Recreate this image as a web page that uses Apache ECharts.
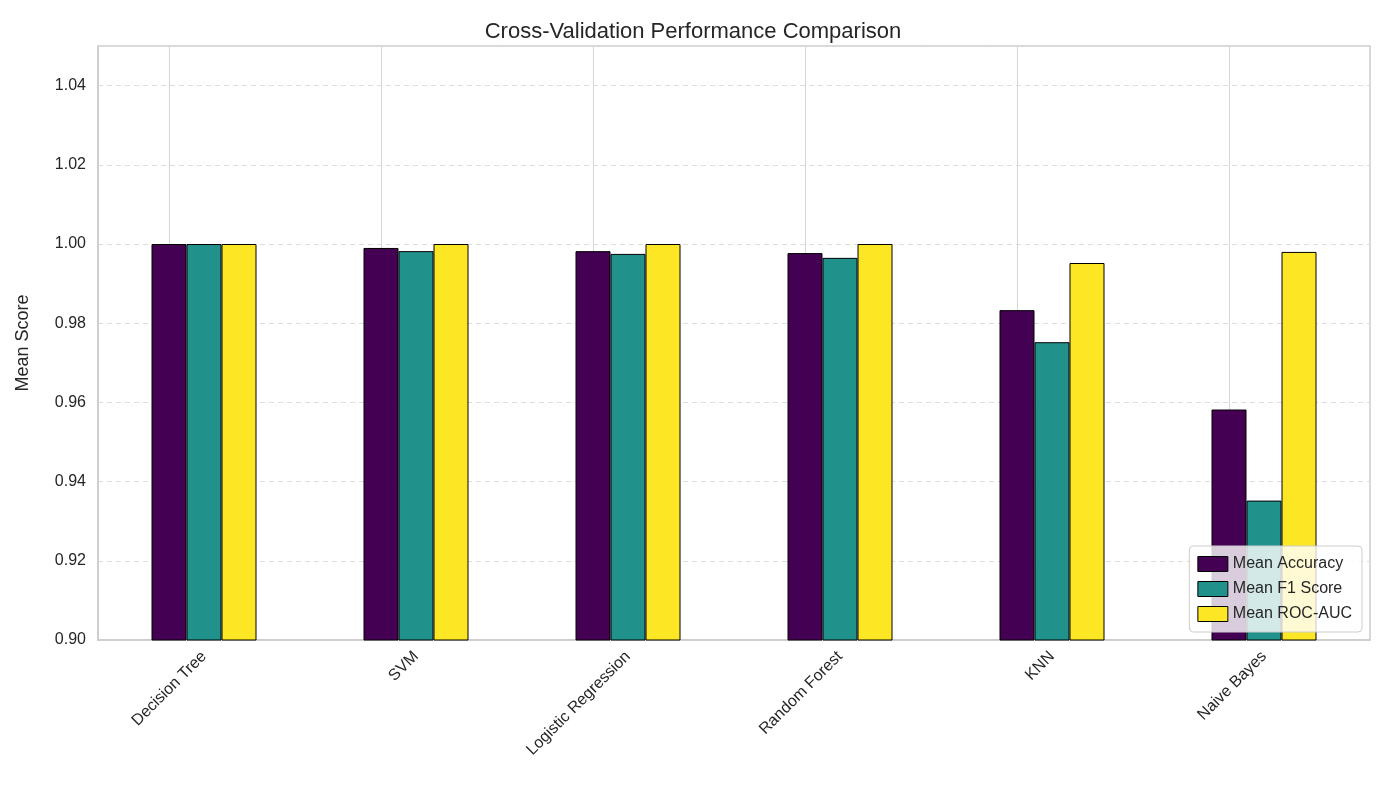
<!DOCTYPE html>
<html>
<head>
<meta charset="utf-8">
<script src="https://cdn.jsdelivr.net/npm/echarts@6/dist/echarts.min.js"></script>
<style>html,body{margin:0;padding:0;background:#fff}#main{width:1386px;height:802px}</style>
</head>
<body>
<div id="main"></div>
<script>
var categories = ['Decision Tree', 'SVM', 'Logistic Regression', 'Random Forest', 'KNN', 'Naive Bayes'];
var meanAccuracy = [1.0, 0.9990, 0.9982, 0.9977, 0.9833, 0.9582];
var meanF1 = [1.0, 0.9982, 0.9975, 0.9965, 0.9752, 0.9352];
var meanRocAuc = [1.0, 1.0, 1.0, 1.0, 0.9952, 0.9980];

var myChart = echarts.init(document.getElementById('main'));
var font = 'Liberation Sans';

function bar(name, data, color) {
    return {
        name: name,
        type: 'bar',
        data: data,
        barWidth: 35,
        barGap: '0%',
        z: 3,
        itemStyle: { color: color, borderColor: '#000', borderWidth: 1 }
    };
}

var series = [
    bar('Mean Accuracy', meanAccuracy, '#440154'),
    bar('Mean F1 Score', meanF1, '#21918c'),
    bar('Mean ROC-AUC', meanRocAuc, '#fde725')
];
// vertical grid lines through category centres
series[0].markLine = {
    silent: true,
    symbol: 'none',
    z: 1,
    label: { show: false },
    lineStyle: { color: '#d6d6d6', type: 'solid', width: 1 },
    data: categories.map(function (c) { return { xAxis: c }; })
};

var option = {
    animation: false,
    textStyle: { fontFamily: font },
    title: {
        text: 'Cross-Validation Performance Comparison',
        left: 'center', top: 16,
        textStyle: { fontSize: 22, fontWeight: 'normal', color: '#262626', fontFamily: font }
    },
    legend: {
        orient: 'vertical',
        right: 24, bottom: 170,
        icon: 'rect',
        itemWidth: 30, itemHeight: 15, itemGap: 9,
        padding: [10, 10, 10, 8],
        backgroundColor: 'rgba(255,255,255,0.8)',
        borderColor: '#ccc', borderWidth: 1, borderRadius: 4,
        itemStyle: { borderColor: '#000', borderWidth: 1 },
        textStyle: { fontSize: 16, color: '#262626' },
        data: ['Mean Accuracy', 'Mean F1 Score', 'Mean ROC-AUC']
    },
    grid: { left: 98, right: 16, top: 46, bottom: 162, show: true, borderColor: '#ccc', borderWidth: 1.5 },
    xAxis: {
        type: 'category',
        data: categories,
        axisLine: { lineStyle: { color: '#ccc', width: 1.5 } },
        axisTick: { show: false },
        axisLabel: { rotate: 45, fontSize: 16, color: '#262626', margin: 14 },
        splitLine: { show: false }
    },
    yAxis: {
        type: 'value',
        min: 0.90, max: 1.05, interval: 0.02,
        name: 'Mean Score', nameLocation: 'middle', nameGap: 66,
        nameTextStyle: { fontSize: 18, color: '#262626' },
        axisLine: { show: true, lineStyle: { color: '#ccc', width: 1.5 } },
        axisTick: { show: false },
        axisLabel: {
            fontSize: 16, color: '#262626', margin: 12,
            formatter: function (v) { return Math.abs(v - 1.05) < 1e-6 ? '' : v.toFixed(2); }
        },
        splitLine: { lineStyle: { color: '#dcdcdc', type: [5, 4] } }
    },
    series: series
};
myChart.setOption(option);
</script>
</body>
</html>
